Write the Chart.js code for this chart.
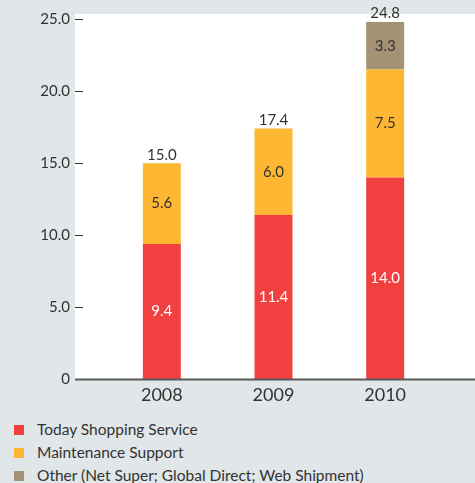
<!DOCTYPE html>
<html>
<head>
<meta charset="utf-8">
<script src="https://cdn.jsdelivr.net/npm/chart.js@4.4.1/dist/chart.umd.min.js"></script>
<style>
  html, body { margin: 0; padding: 0; background: #e1e6e9; }
  body { width: 475px; height: 483px; overflow: hidden; font-family: Lato, "Noto Sans", sans-serif; }
  #wrap { position: relative; width: 475px; height: 415px; }
  #legend { list-style: none; margin: 0; padding: 0; position: absolute; left: 14px; top: 418px; }
  #legend li { height: 23px; line-height: 23px; font-size: 15.5px; color: #333; }
  #legend span { display: inline-block; width: 10px; height: 10px; margin-right: 13px; vertical-align: 0px; }
</style>
</head>
<body>
<div id="wrap"><canvas id="salesChart"></canvas></div>
<ul id="legend"></ul>
<script>
const years = ['2008', '2009', '2010'];
const todayShopping = [9.4, 11.4, 14.0];
const maintenance = [5.6, 6.0, 7.5];
const other = [null, null, 3.3];
const totals = [15.0, 17.4, 24.8];
const yTicks = [0, 5, 10, 15, 20, 25];

const textColor = '#333333';
const fontFamily = 'Lato, "Noto Sans", sans-serif';

// white plot panel, y tick marks and the base line
const panelPlugin = {
    id: 'panel',
    beforeDraw(chart) {
        const c = chart.ctx, a = chart.chartArea;
        c.save();
        c.fillStyle = '#ffffff';
        c.fillRect(75, a.top, chart.width - 75, a.bottom - a.top);
        c.strokeStyle = '#333333';
        c.lineWidth = 1;
        chart.scales.y.ticks.forEach(t => {
            if (t.value === 0) return;
            const y = Math.round(chart.scales.y.getPixelForValue(t.value)) + 0.5;
            c.beginPath();
            c.moveTo(75, y);
            c.lineTo(83, y);
            c.stroke();
        });
        c.restore();
    },
    afterDatasetsDraw(chart) {
        const c = chart.ctx, a = chart.chartArea;
        c.save();
        c.strokeStyle = '#58595b';
        c.lineWidth = 2;
        c.beginPath();
        c.moveTo(75, a.bottom);
        c.lineTo(chart.width, a.bottom);
        c.stroke();
        c.restore();
    }
};

// values inside the bars and totals above each stack
const valuePlugin = {
    id: 'values',
    afterDatasetsDraw(chart) {
        const c = chart.ctx;
        c.save();
        c.font = '15px ' + fontFamily;
        c.textAlign = 'center';
        chart.data.datasets.forEach((ds, i) => {
            const meta = chart.getDatasetMeta(i);
            meta.data.forEach((bar, j) => {
                const v = ds.data[j];
                if (v == null) return;
                c.fillStyle = i === 0 ? '#ffffff' : textColor;
                c.textBaseline = 'middle';
                c.fillText(v.toFixed(1), bar.x, (bar.y + bar.base) / 2);
            });
        });
        const y = chart.scales.y;
        c.fillStyle = textColor;
        c.textBaseline = 'bottom';
        totals.forEach((t, j) => {
            const x = chart.getDatasetMeta(0).data[j].x;
            c.fillText(t.toFixed(1), x, y.getPixelForValue(t) - 1);
        });
        c.restore();
    }
};

const ctx = document.getElementById('salesChart').getContext('2d');
const salesChart = new Chart(ctx, {
    type: 'bar',
    data: {
        labels: years,
        datasets: [
            { label: 'Today Shopping Service', data: todayShopping, backgroundColor: '#f0403f' },
            { label: 'Maintenance Support', data: maintenance, backgroundColor: '#fdb733' },
            { label: 'Other (Net Super; Global Direct; Web Shipment)', data: other, backgroundColor: '#a39374' }
        ]
    },
    options: {
        responsive: true,
        maintainAspectRatio: false,
        animation: false,
        layout: { padding: { top: 14, right: 34, bottom: 4, left: 0 } },
        datasets: { bar: { categoryPercentage: 1, barPercentage: 0.34 } },
        plugins: { legend: { display: false }, tooltip: { enabled: false } },
        scales: {
            x: {
                stacked: true,
                grid: { display: false, drawTicks: false },
                border: { display: false },
                ticks: { color: textColor, font: { family: fontFamily, size: 18 }, padding: 5 }
            },
            y: {
                stacked: true,
                min: 0,
                max: 25.35,
                afterBuildTicks: s => { s.ticks = yTicks.map(v => ({ value: v })); },
                afterFit: s => { s.width = 106; s.paddingTop = 0; s.paddingBottom = 0; },
                grid: { display: false, drawTicks: false },
                border: { display: false },
                ticks: {
                    color: textColor,
                    padding: 36,
                    font: { family: fontFamily, size: 15 },
                    callback: v => v === 0 ? '0' : v.toFixed(1)
                }
            }
        }
    },
    plugins: [panelPlugin, valuePlugin]
});

// legend, one entry per row
const legend = document.getElementById('legend');
salesChart.data.datasets.forEach(ds => {
    const li = document.createElement('li');
    const box = document.createElement('span');
    box.style.background = ds.backgroundColor;
    li.appendChild(box);
    li.appendChild(document.createTextNode(ds.label));
    legend.appendChild(li);
});
</script>
</body>
</html>
